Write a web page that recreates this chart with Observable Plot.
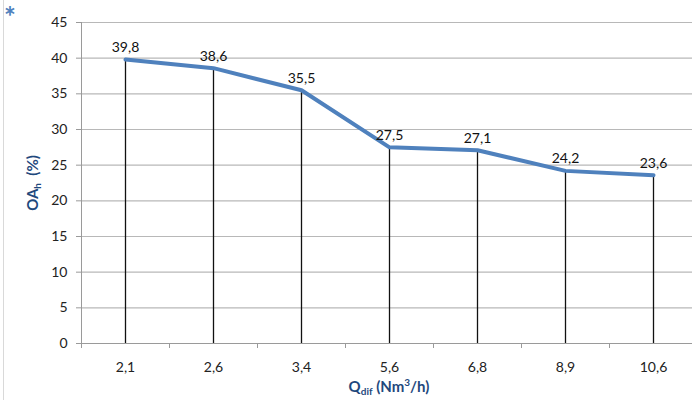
<!DOCTYPE html>
<html>
<head>
<meta charset="utf-8">
<script src="https://cdn.jsdelivr.net/npm/d3@7"></script>
<script src="https://cdn.jsdelivr.net/npm/@observablehq/plot@0.6"></script>
<style>
  html, body { margin: 0; padding: 0; background: white; }
  #chart { width: 692px; height: 400px; }
</style>
</head>
<body>
<div id="chart"></div>
<script>
const categories = ["2,1", "2,6", "3,4", "5,6", "6,8", "8,9", "10,6"];
const values = [39.8, 38.6, 35.5, 27.5, 27.1, 24.2, 23.6];
const yTicks = [0, 5, 10, 15, 20, 25, 30, 35, 40, 45];

const data = categories.map((c, i) => ({
  q: c,
  v: values[i],
  label: values[i].toFixed(1).replace(".", ",")
}));

const chart = Plot.plot({
  width: 692,
  height: 400,
  marginLeft: 81,
  marginRight: -5,
  marginTop: 22,
  marginBottom: 57,
  style: { fontFamily: "Lato, 'Open Sans', sans-serif", fontSize: "14px", color: "#222", background: "white", overflow: "hidden" },
  x: { type: "band", domain: categories, padding: 0, label: null },
  y: { domain: [0, 45], label: null },
  marks: [
    Plot.gridY(yTicks.slice(1), { stroke: "#b8b8b8", strokeOpacity: 1, strokeWidth: 1.2 }),
    Plot.axisY(yTicks, { tickSize: 5, tickPadding: 9, stroke: "#9a9a9a", fill: "#222", fontSize: 14 }),
    Plot.axisX({ tickSize: 0, tickPadding: 19, fill: "#222", fontSize: 14 }),
    Plot.frame({ anchor: "left", stroke: "#9a9a9a" }),
    Plot.ruleY([0], { stroke: "#9a9a9a", strokeWidth: 1.2 }),
    Plot.ruleX(categories, { x: d => d, dx: -44, insetTop: 321, insetBottom: -5, stroke: "#9a9a9a" }),
    Plot.ruleX(data, { x: "q", y1: 0, y2: "v", stroke: "#111", strokeWidth: 1.3 }),
    Plot.line(data, { x: "q", y: "v", stroke: "#4F81BD", strokeWidth: 4, strokeLinejoin: "round" }),
    Plot.text(data, { x: "q", y: "v", text: "label", dy: -12, fill: "#111", fontSize: 14 })
  ]
});

document.getElementById("chart").appendChild(chart);

const svg = d3.select(chart);
const titleColor = "#1F497D";

// left border
svg.append("line")
  .attr("x1", 3.5).attr("x2", 3.5).attr("y1", 0).attr("y2", 400)
  .attr("stroke", "#d9d9d9").attr("stroke-width", 1);

// asterisk
svg.append("text")
  .attr("x", 10).attr("y", 27)
  .attr("text-anchor", "middle")
  .attr("font-family", "Lato, sans-serif")
  .attr("font-weight", "bold")
  .attr("font-size", 28)
  .attr("fill", "#4F81BD")
  .text("*");

// x title
const xt = svg.append("text")
  .attr("x", 389).attr("y", 392)
  .attr("text-anchor", "middle")
  .attr("font-family", "Lato, sans-serif")
  .attr("font-weight", "bold")
  .attr("font-size", 15)
  .attr("fill", titleColor);
xt.append("tspan").text("Q");
xt.append("tspan").attr("font-size", 10).attr("dy", 3).text("dif");
xt.append("tspan").attr("dy", -3).text(" (Nm");
xt.append("tspan").attr("font-size", 10).attr("dy", -6).text("3");
xt.append("tspan").attr("dy", 6).text("/h)");

// y title
const yt = svg.append("text")
  .attr("transform", "translate(38,183) rotate(-90)")
  .attr("text-anchor", "middle")
  .attr("font-family", "Lato, sans-serif")
  .attr("font-weight", "bold")
  .attr("font-size", 15)
  .attr("fill", titleColor);
yt.append("tspan").text("OA");
yt.append("tspan").attr("font-size", 10).attr("dy", 3).text("h");
yt.append("tspan").attr("dy", -3).text("  (%)");
</script>
</body>
</html>
